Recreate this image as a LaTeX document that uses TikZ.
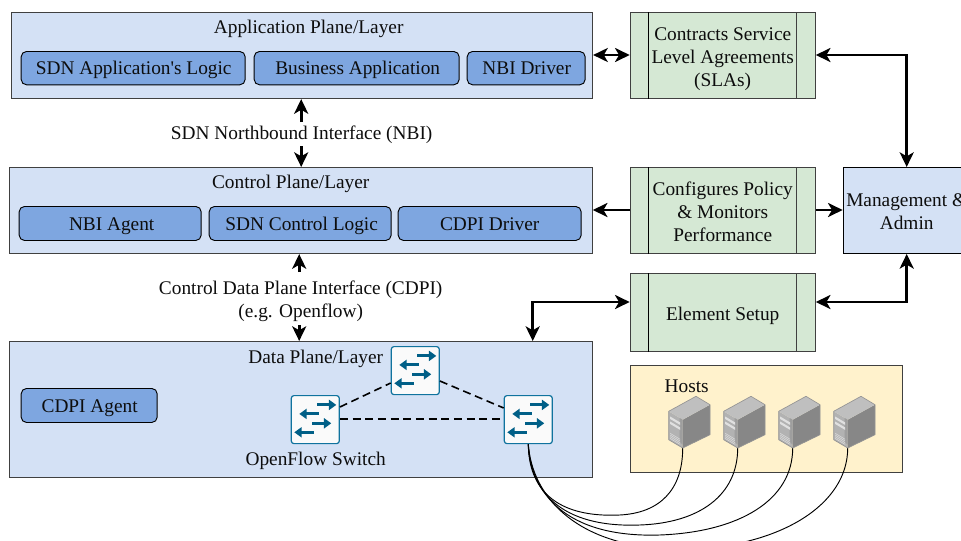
\documentclass[tikz,border=0pt]{standalone}
\usepackage{fontspec}
\setmainfont{Liberation Serif}
\usetikzlibrary{arrows.meta,positioning,calc}
\definecolor{plane}{HTML}{D4E1F5}
\definecolor{sub}{HTML}{7EA6E0}
\definecolor{grn}{HTML}{D5E8D4}
\definecolor{yel}{HTML}{FFF2CC}
\definecolor{swline}{HTML}{10739E}
\definecolor{swarrow}{HTML}{005F87}
\definecolor{edgegray}{HTML}{404040}
\tikzset{
  x=0.75pt,y=-0.75pt,
  every node/.style={font=\fontsize{14.5}{17.3}\selectfont,text=black!95,align=center,inner sep=0pt},
  planebox/.style={draw=edgegray,line width=0.8pt,fill=plane,anchor=north west},
  subbox/.style={draw=black,line width=0.7pt,fill=sub,rounded corners=4pt,anchor=north west},
  greenbox/.style={draw=edgegray,line width=0.8pt,fill=grn,anchor=north west},
  link/.style={draw=black,line width=2.2pt,-{Stealth[length=11pt,width=10.5pt,inset=3pt]}},
  duo/.style={draw=black,line width=2.2pt,{Stealth[length=11pt,width=10.5pt,inset=3pt]}-{Stealth[length=11pt,width=10.5pt,inset=3pt]}},
  dash link/.style={draw=black,line width=1.2pt,dash pattern=on 6pt off 3.5pt},
  wire/.style={draw=black,line width=0.7pt},
  swbox/.style={draw=swline,line width=0.9pt,fill=white!98!black,rounded corners=2pt,minimum size=36pt,anchor=north west},
  swarr/.style={draw=swarrow,line width=2.2pt,-{Triangle[length=5.5pt,width=7.5pt]}},
  pics/switchicon/.style={code={
    \draw[swarr] (-24+26,-24+9.3) -- (-24+45,-24+9.3);
    \draw[swarr] (-24+27.3,-24+18.3) -- (-24+8,-24+18.3);
    \draw[swarr] (-24+21,-24+27.7) -- (-24+40,-24+27.7);
    \draw[swarr] (-24+22.3,-24+36.7) -- (-24+3,-24+36.7);
  }},
  pics/servericon/.style={code={
    \fill[black!30] (0,0) -- (-14,-8.3) -- (-14,-36.7) -- (0,-28.3) -- cycle;
    \fill[black!47] (0,0) -- (27.3,-13.3) -- (27.3,-43.3) -- (0,-28.3) -- cycle;
    \fill[black!25] (0,-28.3) -- (-14,-36.7) -- (13.3,-51.7) -- (27.3,-43.3) -- cycle;
    \fill[black!38] (-3,-6) -- (0,-3.5) -- (0,-28.3) -- (-3,-30) -- cycle;
    \fill[white!88!black] (-12.5,-31.5) -- (-2.5,-25.5) -- (-2.5,-23) -- (-12.5,-29) -- cycle;
    \fill[white!88!black] (-12.5,-26.5) -- (-2.5,-20.5) -- (-2.5,-18) -- (-12.5,-24) -- cycle;
    \foreach \k in {0,1.7,3.4,5.1}
      \fill[white!85!black] (-12.5,-15+\k) -- (-2.5,-9+\k) -- (-2.5,-8.3+\k) -- (-12.5,-14.3+\k) -- cycle;
    \draw[black!42,line width=0.5pt,line join=round] (0,0) -- (-14,-8.3) -- (-14,-36.7) -- (13.3,-51.7) -- (27.3,-43.3) -- (27.3,-13.3) -- cycle;
  }},
}
\begin{document}
\begin{tikzpicture}
\useasboundingbox (-0.5,-0.5) rectangle (960.5,539.5);
\clip (-0.5,-0.5) rectangle (960.5,539.5);
\begin{scope}[xshift=-0.6pt,yshift=0.375pt]
% planes
\node[planebox,minimum width=436pt,minimum height=64.5pt] (app) at (11,12) {};
\node[planebox,minimum width=437.25pt,minimum height=64.5pt] (ctl) at (9,167) {};
\node[planebox,minimum width=437.25pt,minimum height=102pt] (dat) at (9,341) {};
\node at (309,29) (appt) {Application Plane/Layer};
\node at (291,184) (ctlt) {Control Plane/Layer};
\node at (316,359) (datt) {Data Plane/Layer};

% application subs
\node[subbox,minimum width=168pt,minimum height=25pt] (a1) at (21,51) {};
\node at (134,70) (a1t) {SDN Application\textquotesingle s Logic};
\node[subbox,minimum width=153.75pt,minimum height=25pt] (a2) at (254,51) {};
\node at (358,70) (a2t) {Business Application};
\node[subbox,minimum width=88.5pt,minimum height=25pt] (a3) at (467,51) {};
\node at (527,68) (a3t) {NBI Driver};

% control subs
\node[subbox,minimum width=136.5pt,minimum height=25.5pt] (c1) at (19,206) {};
\node at (112,226) (c1t) {NBI Agent};
\node[subbox,minimum width=136.5pt,minimum height=25.5pt] (c2) at (209,206) {};
\node at (302,226) (c2t) {SDN Control Logic};
\node[subbox,minimum width=137.25pt,minimum height=25.5pt] (c3) at (398,206) {};
\node at (490,224) (c3t) {CDPI Driver};

% data
\node[subbox,minimum width=102pt,minimum height=25.5pt] (d1) at (21,388) {};
\node at (90,408) (d1t) {CDPI Agent};
\node at (316,461) (oft) {OpenFlow Switch};

% interface labels
\node (nbi) at (302,135) {SDN Northbound Interface (NBI)};
\node (cdpi) at (301,301) {Control Data Plane Interface (CDPI)\\(e.g. Openflow)};

% green boxes
\node[greenbox,minimum width=138.75pt,minimum height=64.5pt] (sla) at (630,12) {};
\node[greenbox,minimum width=138.75pt,minimum height=64.5pt] (cfg) at (630,167) {};
\node[greenbox,minimum width=138.75pt,minimum height=58.5pt] (els) at (630,273) {};
\foreach \b in {sla,cfg,els}{
  \draw[black,line width=0.7pt] ($(\b.north west)+(18.5,0)$) -- ($(\b.south west)+(18.5,0)$);
  \draw[edgegray,line width=0.7pt] ($(\b.north east)+(-19,0)$) -- ($(\b.south east)+(-19,0)$);
}
\node at (723,59) (slat) {Contracts Service\\Level Agreements\\(SLAs)};
\node at (723,212) (cfgt) {Configures Policy\\\& Monitors\\Performance};
\node at (723,316) (elst) {Element Setup};

% management
\node[draw=black,line width=0.7pt,fill=plane,anchor=north west,minimum width=94.5pt,minimum height=64.5pt] (mgt) at (843,167) {};
\node at (907,212) (mgtt) {Management \&\\Admin};

% hosts
\node[draw=edgegray,line width=0.8pt,fill=yel,anchor=north west,minimum width=204pt,minimum height=80.25pt] (hst) at (630,365) {};
\node at (687,386) (hstt) {Hosts};
\coordinate (h1) at (683,448);
\coordinate (h2) at (738,448);
\coordinate (h3) at (793,448);
\coordinate (h4) at (848,448);

% switches
\node[swbox] (s1) at (391,346) {};
\node[swbox] (s2) at (291,395) {};
\node[swbox] (s3) at (504,395) {};
\foreach \s in {s1,s2,s3}{\pic at (\s.center) {switchicon};}

% dashed links
\draw[dash link] (s2.east |- 0,407) -- (s1.west |- 0,383);
\draw[dash link] (s1.east |- 0,381) -- (s3.west |- 0,408);
\draw[dash link] (s2.east |- 0,419) -- (s3.west |- 0,419);

% wires
\draw[wire] (s3.south) .. controls (529,488) and (555,518) .. (620,515) .. controls (660,513) and (683,490) .. (h1);
\draw[wire] (s3.south) .. controls (530,490) and (560,528) .. (640,525) .. controls (700,523) and (738,495) .. (h2);
\draw[wire] (s3.south) .. controls (531,492) and (565,538) .. (660,535) .. controls (740,532) and (793,500) .. (h3);
\draw[wire] (s3.south) .. controls (532,494) and (575,552) .. (690,549) .. controls (780,546) and (848,505) .. (h4);

\foreach \h in {h1,h2,h3,h4}{\pic at (\h) {servericon};}

% arrows
\draw[link] (301.5,122) -- (app.south -| 301.5,0);
\draw[link] (301.5,146) -- (ctl.north -| 301.5,0);
\draw[link] (299.5,272) -- (ctl.south -| 299.5,0);
\draw[link] (299.5,325) -- (dat.north -| 299.5,0);
\draw[duo] (app.east |- 0,55) -- (sla.west |- 0,55);
\draw[duo] (sla.east |- 0,55) -| (mgt.north -| 907,0);
\draw[link] (cfg.west |- 0,210) -- (ctl.east |- 0,210);
\draw[link] (cfg.east |- 0,210) -- (mgt.west |- 0,210);
\draw[duo] (els.east |- 0,302) -| (mgt.south -| 907,0);
\draw[duo] (els.west |- 0,302) -| (dat.north -| 533,0);
\end{scope}
\end{tikzpicture}
\end{document}
